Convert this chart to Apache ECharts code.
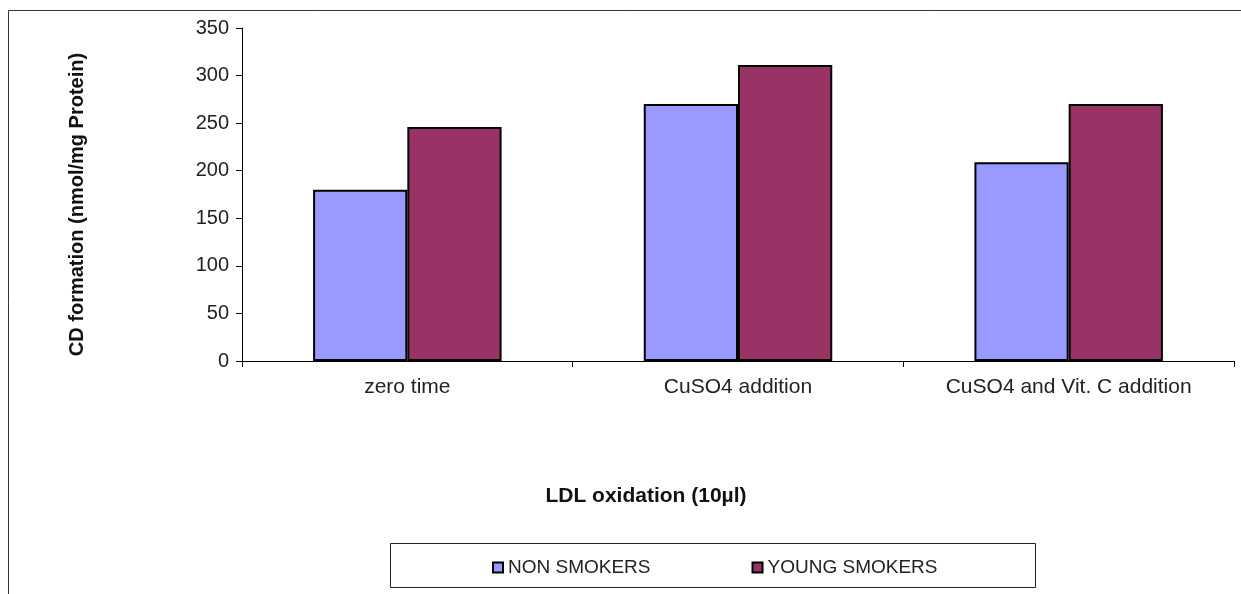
<!DOCTYPE html>
<html><head><meta charset="utf-8">
<script src="https://cdn.jsdelivr.net/npm/echarts@6/dist/echarts.min.js"></script>
<style>html,body{margin:0;padding:0;background:#fff}#c{width:1241px;height:594px}</style>
</head><body><div id="c"></div>
<script>
const categories = ['zero time', 'CuSO4 addition', 'CuSO4 and Vit. C addition'];
const nonSmokers = [180, 270, 209];
const youngSmokers = [246, 311, 270];
const seriesNames = ['NON SMOKERS', 'YOUNG SMOKERS'];
const yTicks = {min: 0, max: 350, interval: 50};

const chart = echarts.init(document.getElementById('c'), null, {renderer: 'canvas'});
const font = 'Liberation Sans, Arial, sans-serif';
chart.setOption({
  animation: false,
  backgroundColor: '#fff',
  grid: {left: 242, right: 7, top: 28, bottom: 233, containLabel: false},
  graphic: [
    {type: 'rect', shape: {x: 8.5, y: 10.5, width: 1240, height: 600}, style: {fill: 'none', stroke: '#333', lineWidth: 1}, silent: true},
    {type: 'rect', shape: {x: 390.5, y: 543.5, width: 645, height: 44}, style: {fill: '#fff', stroke: '#222', lineWidth: 1}, silent: true, z: 0}
  ],
  legend: {
    data: seriesNames,
    left: 487, top: 553,
    itemWidth: 10, itemHeight: 10, itemGap: 101,
    icon: 'rect',
    textStyle: {fontFamily: font, fontSize: 19, color: '#222'},
    z: 5
  },
  xAxis: {
    type: 'category',
    data: categories,
    axisLine: {lineStyle: {color: '#000', width: 1}},
    axisTick: {show: true, alignWithLabel: false, length: 6, lineStyle: {color: '#000'}},
    axisLabel: {fontFamily: font, fontSize: 21, color: '#222', margin: 16},
    name: 'LDL oxidation (10µl)',
    nameLocation: 'middle',
    nameGap: 125,
    nameTextStyle: {fontFamily: font, fontSize: 21, fontWeight: 'bold', color: '#111', padding: [0, 184, 0, 0]}
  },
  yAxis: {
    type: 'value',
    min: yTicks.min, max: yTicks.max, interval: yTicks.interval,
    axisLine: {show: true, lineStyle: {color: '#000', width: 1}},
    axisTick: {show: true, length: 6, lineStyle: {color: '#000'}},
    splitLine: {show: false},
    axisLabel: {fontFamily: font, fontSize: 20, color: '#222', margin: 13},
    name: 'CD formation (nmol/mg Protein)',
    nameLocation: 'middle',
    nameGap: 155,
    nameTextStyle: {fontFamily: font, fontSize: 20, fontWeight: 'bold', color: '#111', padding: [0, 20, 0, 0]}
  },
  series: [
    {name: seriesNames[0], type: 'bar', data: nonSmokers, barGap: '0%', barCategoryGap: '43%',
     itemStyle: {color: '#9999FF', borderColor: '#000', borderWidth: 2}},
    {name: seriesNames[1], type: 'bar', data: youngSmokers, barGap: '0%', barCategoryGap: '43%',
     itemStyle: {color: '#993366', borderColor: '#000', borderWidth: 2}}
  ]
});
</script></body></html>
